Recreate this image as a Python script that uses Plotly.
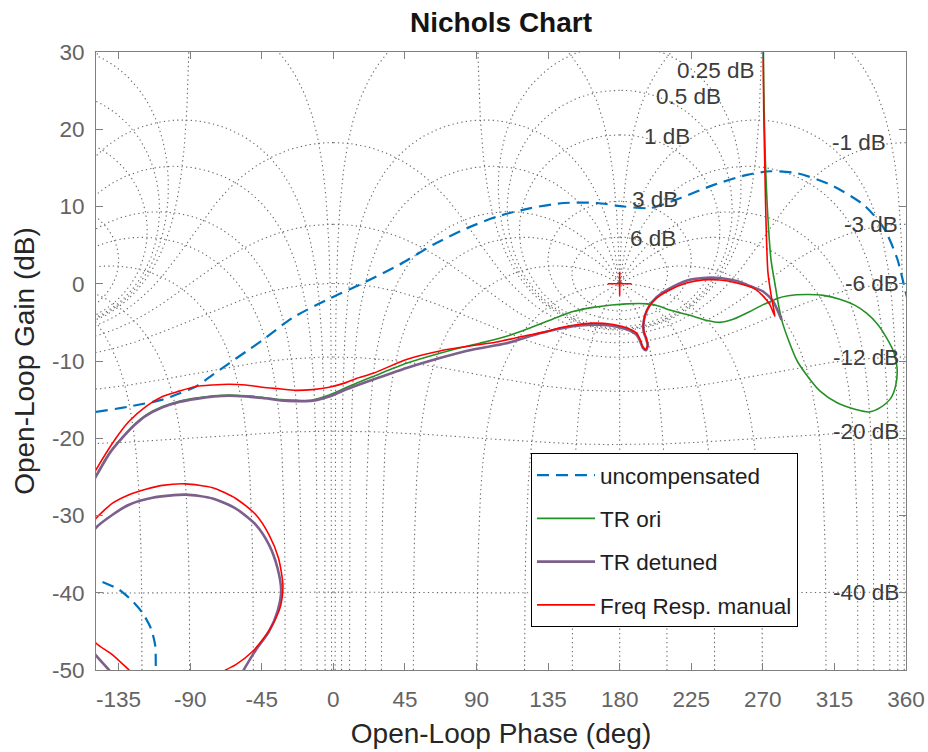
import numpy as np
import plotly.graph_objects as go

# ---------------- open-loop responses: phase (deg) / gain (dB) ----------------
# uncompensated loop, main branch
unc_phase = [-149.3, -128.4, -107.4, -96.9, -86.4, -75.9, -65.5, -55.0, -44.5, -25.6,
             -2.2, 16.7, 41.8, 62.7, 84.1, 103.0, 124.0, 144.9, 165.9, 182.6,
             199.4, 218.3, 239.2, 260.1, 274.8, 291.6, 312.6, 333.5, 346.1, 354.4,
             359.7, 361.0]
unc_gain = [-16.6, -15.9, -15.0, -14.2, -13.3, -11.8, -10.3, -8.8, -7.3, -4.4,
            -1.9, -0.1, 2.5, 5.05, 7.2, 8.7, 9.8, 10.45, 10.45, 10.0,
            9.8, 11.1, 12.8, 14.1, 14.56, 14.3, 12.8, 10.2, 7.2, 3.3,
            -1.0, -2.0]
# uncompensated loop, low-gain arc
unc_arc_phase = [-145.1, -134.7, -126.2, -120.0, -114.7, -112.0, -111.6, -111.5]
unc_arc_gain = [-38.6, -39.6, -41.1, -42.6, -44.6, -46.8, -49.8, -52.0]

# TR ori
ori_phase = [-152.0, -149.1, -140.5, -132.0, -125.0, -117.9, -107.4, -96.9, -86.4, -75.0,
             -65.5, -55.0, -44.5, -33.0, -23.6, -13.1, -2.6, 4.1, 14.1, 25.0,
             46.0, 67.0, 82.0, 92.1, 108.9, 124.0, 142.4, 150.7, 163.3, 175.0,
             184.3, 197.3, 205.0, 211.5, 226.2, 235.0, 243.0, 251.3, 261.8, 270.2,
             274.8, 279.0, 286.0, 297.5, 308.0, 318.4, 328.0, 335.2, 342.0, 347.8,
             352.4, 354.4, 353.6, 350.5, 344.0, 336.5, 329.0, 316.7, 306.0, 297.5,
             291.6, 286.5, 282.3, 279.8, 277.6, 275.2, 273.2, 271.6, 270.6, 270.3, 270.1]
ori_gain = [-26.0, -24.8, -21.8, -19.7, -18.2, -17.0, -15.9, -15.2, -14.8, -14.5,
            -14.4, -14.5, -14.7, -15.0, -15.1, -15.05, -14.4, -13.8, -12.9, -12.0,
            -10.3, -9.0, -8.2, -7.7, -6.8, -5.7, -4.2, -3.6, -3.06, -2.75,
            -2.6, -2.6, -2.9, -3.4, -4.2, -4.75, -5.0, -4.6, -3.6, -2.7,
            -2.3, -1.9, -1.55, -1.4, -1.5, -2.0, -2.8, -3.8, -5.2, -7.0,
            -8.9, -10.9, -13.1, -14.8, -16.0, -16.6, -16.3, -15.4, -13.9, -11.8,
            -10.0, -7.5, -5.0, -2.7, 0.0, 3.0, 8.5, 16.0, 25.0, 32.0, 40.0]

# TR detuned: main branch / low-gain circle / corner piece (None separates pieces)
det_phase = [281.8,
             276.5, 270.2, 262.0, 253.5, 243.0, 232.5, 222.0, 211.5, 203.2, 198.3,
             196.0, 194.9, 195.2, 196.6, 197.6, 196.5, 194.6, 192.8, 190.6, 184.3,
             173.8, 163.3, 155.0, 150.7, 129.8, 108.9, 87.9, 67.0, 46.0, 25.0,
             14.1, 7.9, -2.6, -13.1, -23.6, -33.0, -44.5, -55.0, -65.5, -75.0,
             -86.4, -96.9, -107.4, -117.9, -125.0, -132.0, -140.5, -149.1, -152.0,
             None,
             -151.5, -149.3, -138.8, -128.4, -113.7, -92.7, -75.9, -61.3, -48.7, -40.4,
             -35.1, -32.8, -35.1, -40.4, -48.7, -55.8, -58.0,
             None,
             -151.0, -149.3, -141.0, -139.0]
det_gain = [-4.7,
            -2.3, -1.0, -0.3, 0.35, 0.74, 0.75, 0.4, -0.6, -1.75, -3.0,
            -4.1, -5.3, -6.3, -7.1, -8.0, -8.6, -8.3, -7.4, -6.6, -5.9,
            -5.4, -5.3, -5.4, -5.5, -6.4, -7.7, -8.5, -9.6, -10.9, -12.4,
            -13.2, -13.7, -14.6, -15.15, -15.2, -15.1, -14.8, -14.6, -14.5, -14.6,
            -14.9, -15.3, -16.0, -17.1, -18.3, -19.8, -21.9, -24.9, -26.0,
            None,
            -32.4, -31.6, -29.9, -28.6, -27.7, -27.3, -27.8, -29.1, -31.2, -33.8,
            -36.8, -39.8, -42.4, -45.0, -47.4, -49.8, -50.6,
            None,
            -47.6, -48.1, -50.0, -50.6]

# Freq Resp. manual: main branch / low-gain circle / corner piece
man_phase = [270.0, 270.2, 270.6, 271.3, 272.0, 273.2, 275.3, 277.6,
             274.4, 270.2, 264.4, 253.5, 243.0, 232.5, 222.0, 211.5, 203.2, 198.3,
             196.0, 194.9, 195.2, 196.6, 197.6, 196.5, 194.6, 192.8, 190.6, 184.3,
             173.8, 163.3, 152.9, 142.4, 134.0, 119.3, 102.6, 87.9, 67.0, 46.0,
             25.0, 14.1, 7.9, -2.6, -13.1, -23.6, -34.0, -44.5, -55.0, -65.5,
             -76.0, -86.4, -96.9, -107.4, -117.9, -128.4, -136.7, -149.2, -152.0,
             None,
             -151.5, -149.3, -138.8, -128.4, -117.9, -107.4, -93.0, -75.9, -61.3, -48.7,
             -40.4, -34.5, -31.7, -33.0, -36.1, -42.4, -50.8, -61.3, -67.6, -72.0,
             None,
             -151.0, -149.3, -139.0, -128.4, -124.0]
man_gain = [40.0, 30.0, 22.0, 14.6, 8.0, 1.5, -1.6, -4.2,
            -2.7, -1.6, -0.6, 0.1, 0.48, 0.5, 0.1, -0.8, -1.85, -3.0,
            -4.0, -5.2, -6.2, -7.0, -7.9, -8.5, -8.2, -7.2, -6.4, -5.7,
            -5.2, -5.1, -5.3, -5.7, -6.2, -6.8, -7.55, -8.0, -8.7, -9.8,
            -11.6, -12.3, -12.8, -13.4, -13.7, -13.8, -13.6, -13.4, -13.1, -13.0,
            -13.1, -13.3, -13.9, -14.6, -15.9, -17.8, -20.0, -24.1, -25.2,
            None,
            -31.2, -30.4, -28.4, -27.3, -26.6, -26.1, -25.9, -26.4, -27.8, -29.9,
            -32.5, -35.5, -39.0, -41.6, -43.3, -45.5, -47.6, -49.3, -50.0, -50.8,
            None,
            -45.8, -46.5, -48.0, -50.0, -50.8]

# critical point
crit_phase = [180]
crit_gain = [0]

# axis ticks
x_ticks = [-135, -90, -45, 0, 45, 90, 135, 180, 225, 270, 315, 360]
y_ticks = [30, 20, 10, 0, -10, -20, -30, -40, -50]

# ---------------- Nichols grid ----------------
M_DB = [6, 3, 1, 0.5, 0.25, 0, -1, -3, -6, -12, -20, -40]
N_DEG = [-1, -5, -10, -20, -30, -50, -90, -120, -150, -180]
PERIOD_SHIFTS = [0, 360]


def m_contour(mdb):
    """Constant closed-loop gain locus (one period centred on -180 deg)."""
    m = 10 ** (mdb / 20)
    th = np.linspace(-359.8, -0.2, 1200) if mdb == 0 else np.linspace(-360, 0, 1201)
    t = m * np.exp(1j * np.radians(th))
    d = 1 - t
    ph = th - np.degrees(np.unwrap(np.angle(d)))
    ph -= 360 * np.round((ph.mean() + 180) / 360)
    return ph, 20 * np.log10(np.abs(t / d))


def n_contour(ndeg):
    """Constant closed-loop phase locus."""
    m = np.logspace(-3.2, 3, 2500)
    t = m * np.exp(1j * np.radians(ndeg))
    d = 1 - t
    ph = ndeg - np.degrees(np.angle(d))
    return ph, 20 * np.log10(np.abs(t / d))


grid_x, grid_y = [], []
contours = [m_contour(g) for g in M_DB]
for n in N_DEG:
    contours.append(n_contour(n))
    if n != -180:
        contours.append(n_contour(-360 - n))
for shift in PERIOD_SHIFTS:
    for ph, g in contours:
        grid_x.extend((ph + shift).tolist())
        grid_y.extend(g.tolist())
        grid_x.append(None)
        grid_y.append(None)

# M-contour labels: (closed-loop gain, label phase, label gain)
POS_LABELS = [(6, 185.5, 5.9), (3, 186.5, 10.9), (1, 194.0, 19.1),
              (0.5, 201.5, 24.3), (0.25, 215.0, 27.6)]
NEG_LABELS = [(-1, 312.0), (-3, 319.7), (-6, 320.6), (-12, 312.6), (-20, 312.6), (-40, 312.6)]
LABEL_FONT = dict(family="Liberation Sans, Arial", size=22.5, color="rgb(60,60,60)")


def fmt(v):
    return ("%g" % v) + " dB"


annotations = []
for g, xpos, ypos in POS_LABELS:
    annotations.append(dict(x=xpos, y=ypos, text=fmt(g), xanchor="left",
                            yanchor="middle", showarrow=False, font=LABEL_FONT))
for g, xpos in NEG_LABELS:
    m = 10 ** (g / 20)
    yv = 20 * np.log10(m / (1 - m))
    annotations.append(dict(x=xpos, y=yv, text=fmt(g), xanchor="left",
                            yanchor="middle", showarrow=False, font=LABEL_FONT))

# ---------------- figure ----------------
fig = go.Figure()
fig.add_trace(go.Scatter(x=grid_x, y=grid_y, mode="lines", hoverinfo="skip",
                         line=dict(color="rgb(105,105,105)", width=1.1, dash="1.3px,3.2px"),
                         showlegend=False))

unc_x = unc_phase + [None] + unc_arc_phase
unc_y = unc_gain + [None] + unc_arc_gain
fig.add_trace(go.Scatter(x=unc_x, y=unc_y, mode="lines", name="uncompensated",
                         legendgroup="a",
                         line=dict(color="rgb(0,114,189)", width=2.2, dash="12px,7px",
                                   shape="spline", smoothing=0.7)))
fig.add_trace(go.Scatter(x=ori_phase, y=ori_gain, mode="lines", name="TR ori",
                         legendgroup="b",
                         line=dict(color="rgb(35,145,35)", width=1.6,
                                   shape="spline", smoothing=0.7)))
fig.add_trace(go.Scatter(x=det_phase, y=det_gain, mode="lines", name="TR detuned",
                         legendgroup="c",
                         line=dict(color="rgb(125,95,140)", width=2.6,
                                   shape="spline", smoothing=0.7)))
fig.add_trace(go.Scatter(x=man_phase, y=man_gain, mode="lines", name="Freq Resp. manual",
                         legendgroup="d",
                         line=dict(color="rgb(255,0,0)", width=1.6,
                                   shape="spline", smoothing=0.7)))
fig.add_trace(go.Scatter(x=crit_phase, y=crit_gain, mode="markers", showlegend=False,
                         marker=dict(symbol="cross-thin-open", size=17, color="red",
                                     line=dict(color="red", width=1.6))))

axis_common = dict(showgrid=False, zeroline=False, showline=True, mirror="ticks",
                   automargin=False,
                   linecolor="rgb(128,128,128)", linewidth=1, ticks="inside",
                   ticklen=7, tickcolor="rgb(128,128,128)",
                   tickfont=dict(family="Liberation Sans, Arial", size=22.5,
                                 color="rgb(100,100,100)"))

fig.update_layout(
    width=928, height=752,
    margin=dict(l=96, r=22, t=52, b=82),
    paper_bgcolor="white", plot_bgcolor="white",
    font=dict(family="Liberation Sans, Arial"),
    title=dict(text="<b>Nichols Chart</b>", x=0.5, xref="paper", xanchor="center",
               y=1 - 22 / 752, yanchor="middle",
               font=dict(size=28, color="rgb(20,20,20)")),
    xaxis=dict(range=[-149.2, 360], tickvals=x_ticks,
               ticktext=[str(v) for v in x_ticks], ticklabelstandoff=9,
               title=dict(text="Open-Loop Phase (deg)", standoff=12,
                          font=dict(size=28, color="rgb(38,38,38)")),
               **axis_common),
    yaxis=dict(range=[-50, 30], tickvals=y_ticks,
               ticktext=[str(v) for v in y_ticks], ticklabelstandoff=6,
               title=dict(text="Open-Loop Gain (dB)", standoff=9,
                          font=dict(size=28, color="rgb(38,38,38)")),
               **axis_common),
    legend=dict(x=(531 - 96) / 810, y=(670 - 453) / 618, xanchor="left", yanchor="top",
                bgcolor="white", bordercolor="black", borderwidth=1,
                font=dict(size=22.5, color="rgb(30,30,30)"),
                tracegroupgap=11, itemwidth=58),
    annotations=annotations,
)

fig.write_html("out.html")
